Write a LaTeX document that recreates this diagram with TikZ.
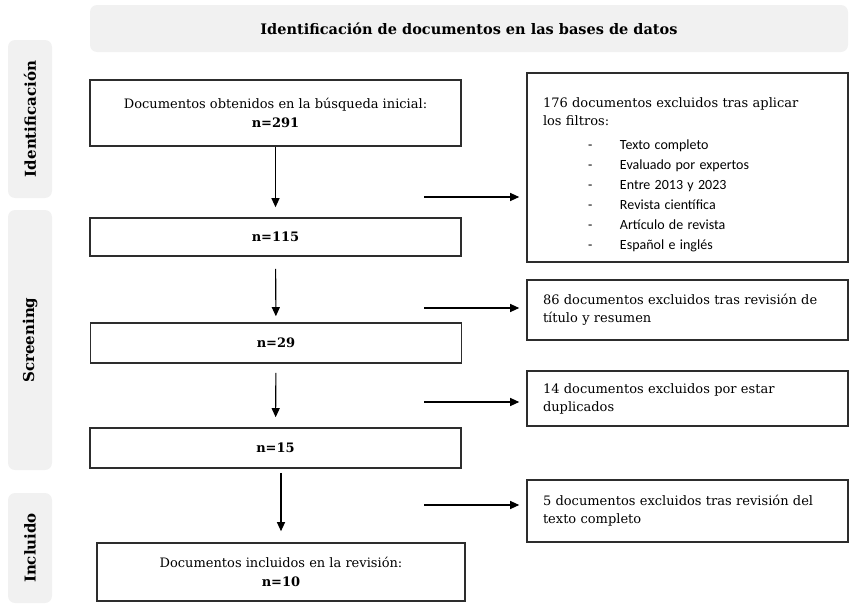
\documentclass[tikz,border=0pt]{standalone}
\usepackage{fontspec}
\setmainfont{DejaVu Serif}
\newfontfamily\listfont{Carlito}
\usetikzlibrary{arrows.meta,positioning,calc}
\definecolor{bargrey}{RGB}{241,241,241}
\definecolor{boxline}{RGB}{45,45,45}
\newcommand{\filtro}[1]{{\listfont\fontsize{14}{17}\selectfont\hspace*{45pt}\makebox[32pt][l]{-}#1}}

\begin{document}
\begin{tikzpicture}[x=1pt, y=-1pt,
    band/.style={rectangle, fill=bargrey, rounded corners=7pt, inner sep=0pt,
        font=\bfseries\fontsize{14.5}{16}\selectfont},
    sidebar/.style={band, rotate=90, minimum height=44pt, font=\bfseries\fontsize{15}{16}\selectfont},
    box/.style={rectangle, draw=boxline, line width=1.6pt, fill=white,
        minimum width=371pt, align=center, font=\fontsize{13}{19}\selectfont},
    note/.style={rectangle, draw=boxline, line width=1.6pt, fill=white,
        inner xsep=16pt, text width=289pt, align=left, font=\fontsize{13}{18}\selectfont},
    arr/.style={-{Triangle[length=9pt,width=8pt]}, line width=1.1pt, black}
]
    \useasboundingbox (0,0) rectangle (849,605);

    % Bands
    \node[band, minimum width=758pt, minimum height=47pt] (hdr) at (469,28.5)
        {Identificación de documentos en las bases de datos};
    \node[sidebar, minimum width=158pt] (sid) at (30,119) {Identificación};
    \node[sidebar, minimum width=260pt] (sscr) at (30,340) {Screening};
    \node[sidebar, minimum width=110pt] (sinc) at (30,548) {Incluido};

    % Main flow
    \node[box, minimum height=66pt] (b291) at (275.5,113)
        {Documentos obtenidos en la búsqueda inicial:\\\textbf{n=291}};
    \node[box, minimum height=38pt] (b115) at (275.5,237) {\textbf{n=115}};
    \node[box, minimum height=40pt] (b29) at (276,343) {\textbf{n=29}};
    \node[box, minimum height=40pt] (b15) at (275.5,448) {\textbf{n=15}};
    \node[box, minimum width=368pt, minimum height=58pt] (b10) at (281,572)
        {Documentos incluidos en la revisión:\\\textbf{n=10}};

    \draw[arr, shorten <=0pt, shorten >=10pt] (b291) -- (b115);
    \draw[arr, shorten <=12pt, shorten >=6pt] (b115) -- (b29);
    \draw[arr, shorten <=9pt, shorten >=10pt] (b29) -- (b15);
    \draw[arr, shorten <=4pt, shorten >=11pt] (b10 |- b15.south) -- (b10.north);

    % Exclusions
    \node[note, minimum height=189pt] (r1) at (687.5,167.5)
        {\rule{0pt}{25pt}176 documentos excluidos tras aplicar\\los filtros:\\[6pt]
         \filtro{Texto completo}\\[2pt]
         \filtro{Evaluado por expertos}\\[2pt]
         \filtro{Entre 2013 y 2023}\\[2pt]
         \filtro{Revista científica}\\[2pt]
         \filtro{Artículo de revista}\\[2pt]
         \filtro{Español e inglés}};
    \node[note, minimum height=60pt] (r2) at (687.5,310)
        {86 documentos excluidos tras revisión de\\título y resumen};
    \node[note, minimum height=55pt] (r3) at (687.5,398.5)
        {14 documentos excluidos por estar\\duplicados};
    \node[note, minimum height=62pt] (r4) at (687.5,511)
        {5 documentos excluidos tras revisión del\\texto completo};

    \coordinate (e1) at (424,197);
    \coordinate (e2) at (424,308);
    \coordinate (e3) at (424,402);
    \coordinate (e4) at (424,505);
    \foreach \e/\r in {e1/r1,e2/r2,e3/r3,e4/r4}
        \draw[arr, shorten >=7pt] (\e) -- (\e -| \r.west);
\end{tikzpicture}
\end{document}
